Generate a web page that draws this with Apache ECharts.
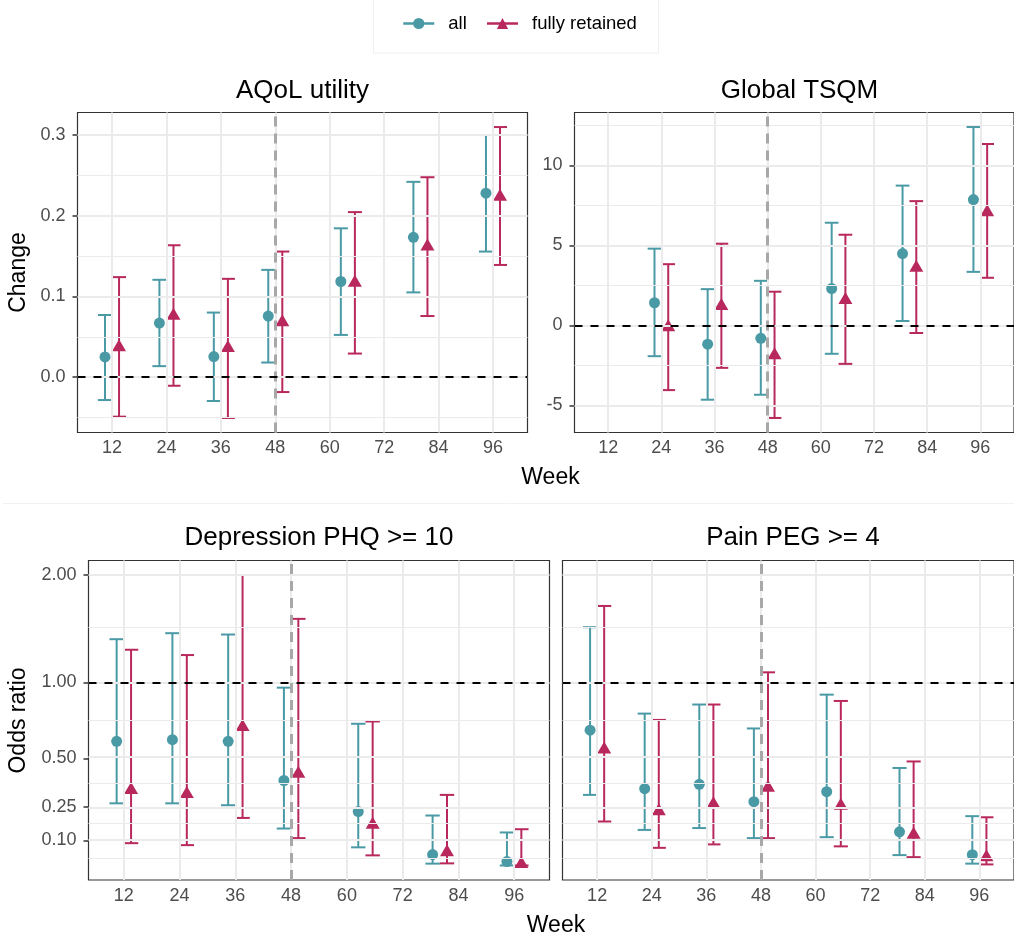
<!DOCTYPE html>
<html><head><meta charset="utf-8">
<script src="https://cdn.jsdelivr.net/npm/echarts@6/dist/echarts.min.js"></script>
<style>html,body{margin:0;padding:0;background:#fff}#c{width:1014px;height:938px}</style>
</head><body><div id="c"></div>
<script>
// ---------- data ----------
const weeks = [12, 24, 36, 48, 64, 80, 96];
const weekTicks = [12, 24, 36, 48, 60, 72, 84, 96];
const seriesNames = ['all', 'fully retained'];

// AQoL utility (change)
const aqolAllEst = [0.025, 0.067, 0.0255, 0.0757, 0.1185, 0.1733, 0.228];
const aqolAllLo  = [-0.0284, 0.0136, -0.0296, 0.0181, 0.0523, 0.105, 0.1556];
const aqolAllHi  = [0.077, 0.1206, 0.080, 0.1329, 0.1844, 0.242, 0.300];
const aqolRetEst = [0.037, 0.076, 0.036, 0.068, 0.117, 0.162, 0.2235];
const aqolRetLo  = [-0.049, -0.0107, -0.0506, -0.0185, 0.0292, 0.0757, 0.139];
const aqolRetHi  = [0.1239, 0.1634, 0.1218, 0.1556, 0.2045, 0.2477, 0.3099];
const aqolTicks  = [0, 0.1, 0.2, 0.3];

// Global TSQM (change)
const tsqmAllEst = [null, 1.41, -1.18, -0.81, 2.30, 4.48, 7.86];
const tsqmAllLo  = [null, -1.93, -4.65, -4.34, -1.78, 0.27, 3.34];
const tsqmAllHi  = [null, 4.79, 2.26, 2.78, 6.41, 8.73, 12.39];
const tsqmRetEst = [null, -0.12, 1.20, -1.87, 1.58, 3.59, 7.07];
const tsqmRetLo  = [null, -4.05, -2.66, -5.79, -2.41, -0.48, 2.97];
const tsqmRetHi  = [null, 3.82, 5.10, 2.10, 5.66, 7.76, 11.33];
const tsqmTicks  = [-5, 0, 5, 10];

// Depression PHQ >= 10 (odds ratio)
const phqAllEst = [0.60, 0.61, 0.60, 0.38, 0.227, 0.043, 0.016];
const phqAllLo  = [0.266, 0.266, 0.257, 0.151, 0.072, 0.008, 0.001];
const phqAllHi  = [1.354, 1.408, 1.396, 0.960, 0.710, 0.209, 0.134];
const phqRetEst = [0.332, 0.312, 0.690, 0.416, 0.167, 0.052, 0.0065];
const phqRetLo  = [0.089, 0.081, 0.198, 0.110, 0.040, 0.009, 0.001];
const phqRetHi  = [1.262, 1.217, 2.00, 1.542, 0.725, 0.307, 0.148];

// Pain PEG >= 4 (odds ratio)
const pegAllEst = [0.669, 0.338, 0.360, 0.274, 0.323, 0.137, 0.0425];
const pegAllLo  = [0.307, 0.145, 0.153, 0.110, 0.114, 0.041, 0.008];
const pegAllHi  = [1.463, 0.777, 0.839, 0.680, 0.909, 0.447, 0.206];
const pegRetEst = [0.552, 0.229, 0.262, 0.343, 0.255, 0.124, 0.033];
const pegRetLo  = [0.182, 0.070, 0.084, 0.110, 0.076, 0.033, 0.005];
const pegRetHi  = [1.669, 0.735, 0.839, 1.077, 0.864, 0.483, 0.201];
const orTicks   = [0.10, 0.25, 0.50, 1.00, 2.00];

// ---------- styling ----------
const FONT = '"Liberation Sans", Arial, Helvetica, sans-serif';
const COLORS = ['#4A9AA6', '#B8285C'];
const DODGE = 1.55, CAP = 1.55;
const GRID_COLOR = '#ebebeb';

const ident = v => v;
// scaleGroup: panels sharing a y scale (bottom row facets share y)
const panels = [
  { title: 'AQoL utility', est: [aqolAllEst, aqolRetEst], lo: [aqolAllLo, aqolRetLo], hi: [aqolAllHi, aqolRetHi],
    ticks: aqolTicks, tf: ident, fmt: v => v.toFixed(1), ref: 0, showY: true, scaleGroup: 'a',
    grid: { left: 77.5, top: 112.5, width: 450, height: 320 } },
  { title: 'Global TSQM', est: [tsqmAllEst, tsqmRetEst], lo: [tsqmAllLo, tsqmRetLo], hi: [tsqmAllHi, tsqmRetHi],
    ticks: tsqmTicks, tf: ident, fmt: v => String(Math.round(v)), ref: 0, showY: true, scaleGroup: 'b',
    grid: { left: 574.5, top: 112.5, width: 450, height: 320 } },
  { title: 'Depression PHQ >= 10', est: [phqAllEst, phqRetEst], lo: [phqAllLo, phqRetLo], hi: [phqAllHi, phqRetHi],
    ticks: orTicks, tf: Math.log1p, fmt: v => Math.expm1(v).toFixed(2), ref: 1, showY: true, scaleGroup: 'or',
    grid: { left: 88.5, top: 560.5, width: 461, height: 319.5 } },
  { title: 'Pain PEG >= 4', est: [pegAllEst, pegRetEst], lo: [pegAllLo, pegRetLo], hi: [pegAllHi, pegRetHi],
    ticks: orTicks, tf: Math.log1p, fmt: v => Math.expm1(v).toFixed(2), ref: 1, showY: false, scaleGroup: 'or',
    grid: { left: 562.5, top: 560.5, width: 461, height: 319.5 } }
];

// shared y ranges per scale group (5% expansion, in transformed space)
const ranges = {};
panels.forEach(p => {
  const r = ranges[p.scaleGroup] || (ranges[p.scaleGroup] = { min: Infinity, max: -Infinity });
  [0, 1].forEach(s => {
    p.lo[s].concat(p.hi[s]).forEach(v => { if (v != null) { const t = p.tf(v); r.min = Math.min(r.min, t); r.max = Math.max(r.max, t); } });
  });
});

function minorBreaks(b, lo, hi) {
  const bd = b[1] - b[0];
  let bb = b.slice();
  if (lo < bb[0]) bb.unshift(bb[0] - bd);
  if (hi > bb[bb.length - 1]) bb.push(bb[bb.length - 1] + bd);
  const out = [];
  for (let i = 0; i < bb.length - 1; i++) out.push((bb[i] + bb[i + 1]) / 2);
  return out.filter(v => v > lo && v < hi);
}

const xLo0 = weeks[0] - DODGE - CAP, xHi0 = weeks[weeks.length - 1] + DODGE + CAP;
const xMin = xLo0 - 0.05 * (xHi0 - xLo0), xMax = xHi0 + 0.05 * (xHi0 - xLo0);

function errRender(params, api) {
  const x = api.value(0), lo = api.value(1), hi = api.value(2);
  const b = api.coord([x, lo]), t = api.coord([x, hi]);
  const bl = api.coord([x - CAP, lo]), br = api.coord([x + CAP, lo]);
  const tl = api.coord([x - CAP, hi]), tr = api.coord([x + CAP, hi]);
  const style = { stroke: api.visual('color'), lineWidth: 2 };
  return { type: 'group', children: [
    { type: 'line', shape: { x1: b[0], y1: b[1], x2: t[0], y2: t[1] }, style },
    { type: 'line', shape: { x1: bl[0], y1: bl[1], x2: br[0], y2: br[1] }, style },
    { type: 'line', shape: { x1: tl[0], y1: tl[1], x2: tr[0], y2: tr[1] }, style }
  ]};
}

const grids = [], xAxes = [], yAxes = [], series = [], graphics = [];
// point series first so the legend takes its line+symbol icon from them
panels.forEach((p, i) => {
  [0, 1].forEach(s => {
    const off = s === 0 ? -DODGE : DODGE;
    const ptData = [];
    weeks.forEach((w, k) => { if (p.est[s][k] != null) ptData.push([w + off, p.tf(p.est[s][k])]); });
    series.push({ type: 'line', name: seriesNames[s], xAxisIndex: i, yAxisIndex: i, z: 4, silent: true,
      symbol: s === 0 ? 'circle' : 'triangle', symbolSize: s === 0 ? 11 : [14, 12], symbolOffset: s === 0 ? [0, 0] : [0, -2],
      showSymbol: true, lineStyle: { width: 0 }, itemStyle: { color: COLORS[s] }, data: ptData });
  });
});
panels.forEach((p, i) => {
  grids.push(Object.assign({ show: true, borderColor: '#333333', borderWidth: 1.2, backgroundColor: 'transparent' }, p.grid));
  const r = ranges[p.scaleGroup];
  const yMin = r.min - 0.05 * (r.max - r.min), yMax = r.max + 0.05 * (r.max - r.min);
  const tTicks = p.ticks.map(p.tf);
  xAxes.push({
    type: 'value', gridIndex: i, min: xMin, max: xMax,
    axisLine: { show: false }, splitLine: { show: false },
    axisTick: { show: true, customValues: weekTicks, length: 5, lineStyle: { color: '#333333', width: 1.5 } },
    axisLabel: { show: true, customValues: weekTicks, fontSize: 18, color: '#4d4d4d', fontFamily: FONT, margin: 7 }
  });
  yAxes.push({
    type: 'value', gridIndex: i, min: yMin, max: yMax,
    axisLine: { show: false }, splitLine: { show: false },
    axisTick: { show: p.showY, customValues: tTicks, length: 5, lineStyle: { color: '#333333', width: 1.5 } },
    axisLabel: { show: p.showY, customValues: tTicks, fontSize: 18, color: '#4d4d4d', fontFamily: FONT, margin: 12,
                 formatter: v => p.fmt(v) }
  });
  const minors = minorBreaks(tTicks, yMin, yMax);
  const gl = [];
  minors.forEach(v => gl.push({ yAxis: v, lineStyle: { color: GRID_COLOR, width: 1.1, type: 'solid' } }));
  tTicks.forEach(v => gl.push({ yAxis: v, lineStyle: { color: GRID_COLOR, width: 2, type: 'solid' } }));
  weekTicks.forEach(w => gl.push({ xAxis: w, lineStyle: { color: GRID_COLOR, width: 2, type: 'solid' } }));
  series.push({ type: 'line', xAxisIndex: i, yAxisIndex: i, data: [], z: 1, silent: true,
    markLine: { silent: true, symbol: ['none', 'none'], label: { show: false }, animation: false, data: gl } });
  series.push({ type: 'line', xAxisIndex: i, yAxisIndex: i, data: [], z: 2, silent: true,
    markLine: { silent: true, symbol: ['none', 'none'], label: { show: false }, animation: false, data: [
      { xAxis: 48, lineStyle: { color: '#a8a8a8', width: 3, type: [10, 7] } },
      { yAxis: p.tf(p.ref), lineStyle: { color: '#000000', width: 2, type: [8, 8] } }
    ] } });
  [0, 1].forEach(s => {
    const off = s === 0 ? -DODGE : DODGE;
    const ebData = [];
    weeks.forEach((w, k) => { if (p.est[s][k] != null) ebData.push([w + off, p.tf(p.lo[s][k]), p.tf(p.hi[s][k])]); });
    series.push({ type: 'custom', name: seriesNames[s], xAxisIndex: i, yAxisIndex: i, z: 3, silent: true,
      renderItem: errRender, encode: { x: 0, y: [1, 2] }, itemStyle: { color: COLORS[s] }, data: ebData });
  });
  const cx = p.grid.left + p.grid.width / 2;
  graphics.push({ type: 'text', x: cx, y: p.grid.top - (i < 2 ? 22 : 23), style: { text: p.title, fontSize: 26, fontFamily: FONT, fill: '#000', align: 'center', verticalAlign: 'middle' } });
});

graphics.push({ type: 'text', x: 19, y: 272.5, rotation: Math.PI / 2, style: { text: 'Change', fontSize: 23, fontFamily: FONT, fill: '#000', align: 'center', verticalAlign: 'middle' } });
graphics.push({ type: 'text', x: 18.5, y: 720.5, rotation: Math.PI / 2, style: { text: 'Odds ratio', fontSize: 23, fontFamily: FONT, fill: '#000', align: 'center', verticalAlign: 'middle' } });
graphics.push({ type: 'text', x: 550.5, y: 477.5, style: { text: 'Week', fontSize: 23, fontFamily: FONT, fill: '#000', align: 'center', verticalAlign: 'middle' } });
graphics.push({ type: 'text', x: 556, y: 925.5, style: { text: 'Week', fontSize: 23, fontFamily: FONT, fill: '#000', align: 'center', verticalAlign: 'middle' } });
graphics.push({ type: 'rect', shape: { x: 373.5, y: -2, width: 285, height: 55 }, style: { fill: null, stroke: '#f0f0f0', lineWidth: 1 }, z: -1 });
graphics.push({ type: 'line', shape: { x1: 3, y1: 503.5, x2: 1014, y2: 503.5 }, style: { stroke: '#f2f2f2', lineWidth: 1 }, z: -1 });

const chart = echarts.init(document.getElementById('c'), null, { renderer: 'canvas' });
chart.setOption({
  animation: false,
  backgroundColor: '#ffffff',
  legend: {
    data: seriesNames, left: 397, top: 9, itemWidth: 31, itemHeight: 14, itemGap: 19,
    textStyle: { fontSize: 18.5, color: '#000', fontFamily: FONT, padding: [0, 0, 0, 9] },
    lineStyle: { width: 2.5 }
  },
  grid: grids, xAxis: xAxes, yAxis: yAxes, series: series, graphic: graphics
});
</script></body></html>
